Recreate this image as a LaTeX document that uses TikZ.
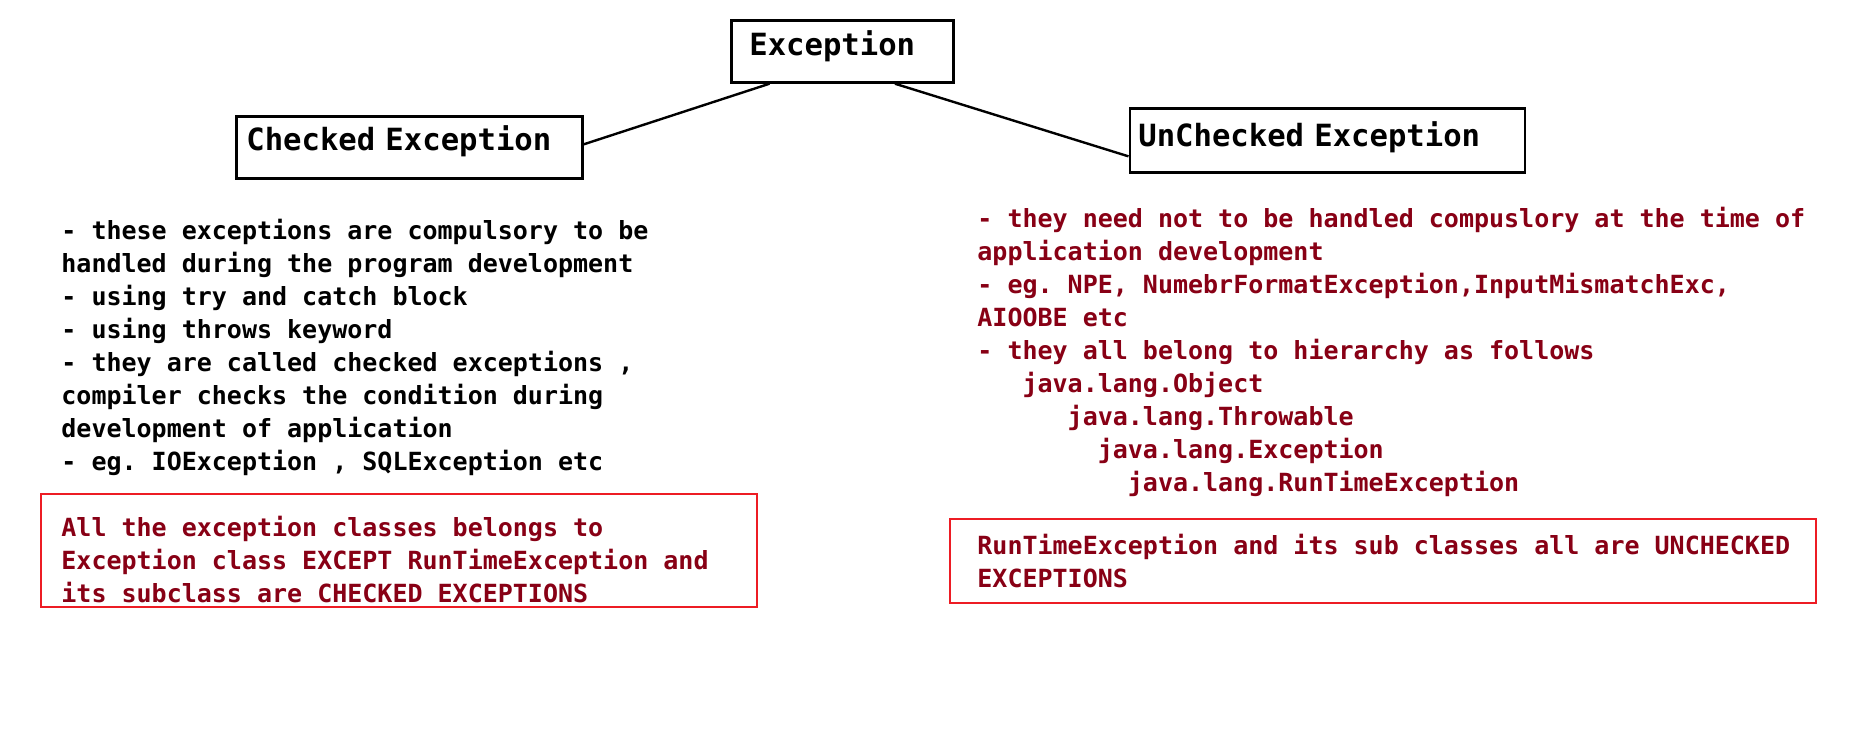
\documentclass[tikz,border=0pt]{standalone}
\usepackage{fontspec}
\setmonofont{DejaVu Sans Mono}
\usepackage{xcolor}
\usepackage{tikz}
\usetikzlibrary{calc,positioning}
\definecolor{darkred}{HTML}{880015}
\definecolor{paintred}{HTML}{ED1C24}

\begin{document}
\begin{tikzpicture}[x=0.5pt,y=-0.5pt,
  bx/.style={draw,line width=1.35pt,anchor=north west,inner ysep=0pt,align=left,
    font=\ttfamily\bfseries\fontsize{15.3}{18}\selectfont},
  note/.style={anchor=north west,inner sep=0pt,align=left,
    font=\ttfamily\bfseries\fontsize{12.5}{16.5}\selectfont},
  redbox/.style={draw=paintred,line width=1pt,anchor=north west,inner sep=0pt},
  ln/.style={line width=1.2pt}]
  \useasboundingbox[fill=white] (0,0) rectangle (1852,743);
  % top of the tree
  \node[bx,inner xsep=9pt,text width=93pt,text height=17.5pt,text depth=13.5pt] (exc) at (730,19) {Exception};
  \node[bx,inner xsep=5pt,text width=163pt,text height=17pt,text depth=14.25pt] (chk) at (235,115) {Checked Exception};
  \node[bx,inner xsep=4.25pt,text width=189pt,text height=19.3pt,text depth=12.7pt] (unc) at (1128.5,107) {UnChecked Exception};
  \draw[ln] ($(exc.south west)!0.176!(exc.south east)$) -- ($(chk.north east)!0.45!(chk.south east)$);
  \draw[ln] ($(exc.south west)!0.734!(exc.south east)$) -- ($(unc.north west)!0.74!(unc.south west)$);
  % checked side
  \node[note] (chkinfo) at (61,219) {- these exceptions are compulsory to be\\
    handled during the program development\\
    - using try and catch block\\
    - using throws keyword\\
    - they are called checked exceptions ,\\
    compiler checks the condition during\\
    development of application\\
    - eg. IOException , SQLException etc};
  \node[redbox,minimum width=358pt,minimum height=56.5pt] (chkbox) at (40,493) {};
  \node[note,text=darkred] (chknote) at (61,516) {All the exception classes belongs to\\
    Exception class EXCEPT RunTimeException and\\
    its subclass are CHECKED EXCEPTIONS};
  % unchecked side
  \node[note,text=darkred] (uncinfo) at (977,207) {- they need not to be handled compuslory at the time of\\
    application development\\
    - eg. NPE, NumebrFormatException,InputMismatchExc,\\
    AIOOBE etc\\
    - they all belong to hierarchy as follows\\
    \phantom{xxx}java.lang.Object\\
    \phantom{xxxxxx}java.lang.Throwable\\
    \phantom{xxxxxxxx}java.lang.Exception\\
    \phantom{xxxxxxxxxx}java.lang.RunTimeException};
  \node[redbox,minimum width=433pt,minimum height=42pt] (uncbox) at (949,518) {};
  \node[note,text=darkred] (uncnote) at (977,534) {RunTimeException and its sub classes all are UNCHECKED\\
    EXCEPTIONS};
\end{tikzpicture}
\end{document}
